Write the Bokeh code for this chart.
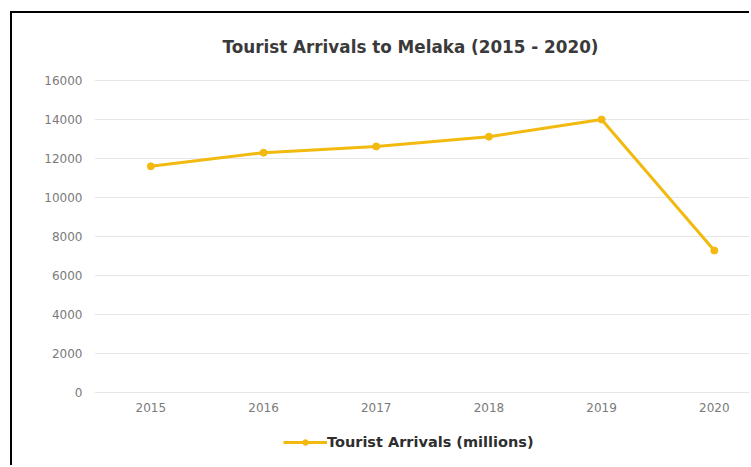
from bokeh.plotting import figure
from bokeh.models import Range1d, FixedTicker, Legend, LegendItem
from bokeh.embed import file_html
from bokeh.resources import INLINE

years = [2015, 2016, 2017, 2018, 2019, 2020]
arrivals = [11600, 12300, 12620, 13120, 14000, 7280]
y_ticks = [0, 2000, 4000, 6000, 8000, 10000, 12000, 14000, 16000]
title_text = "Tourist Arrivals to Melaka (2015 - 2020)"
series_label = "Tourist Arrivals (millions)"

gold = "#F2B90F"
font = "DejaVu Sans"

p = figure(width=739, height=454, output_backend="svg", toolbar_location=None,
           x_range=Range1d(2014.5, 2020.33), y_range=Range1d(-3026, 16103),
           min_border_left=82, min_border_right=0, min_border_top=65, min_border_bottom=16,
           margin=(11, 0, 0, 10),
           styles={"border-left": "2px solid #000", "border-top": "2px solid #000"})

p.title.text = title_text
p.title.align = "left"
p.title.offset = 128
p.title.standoff = 43
p.title.text_font = font
p.title.text_font_size = "16.8px"
p.title.text_font_style = "bold"
p.title.text_color = "#3a3a3a"

p.outline_line_color = None
p.background_fill_color = "white"
p.border_fill_color = "white"

p.xaxis.ticker = FixedTicker(ticks=years)
p.yaxis.ticker = FixedTicker(ticks=y_ticks)
p.xaxis.fixed_location = 0
for ax in (p.xaxis, p.yaxis):
    ax.axis_line_color = None
    ax.major_tick_line_color = None
    ax.minor_tick_line_color = None
    ax.major_label_text_font = font
    ax.major_label_text_font_size = "12px"
    ax.major_label_text_color = "#7a7a7a"
p.xaxis.major_label_standoff = 5
p.yaxis.major_label_standoff = 6
p.xgrid.grid_line_color = None
p.ygrid.grid_line_color = "#e6e6e6"
p.ygrid.grid_line_width = 1

line_r = p.line(years, arrivals, line_color=gold, line_width=3)
dot_r = p.scatter(years, arrivals, size=7, fill_color=gold, line_color=gold)

legend = Legend(items=[LegendItem(label=series_label, renderers=[line_r, dot_r])],
                location=(189, 1), orientation="horizontal",
                padding=0, margin=0, spacing=0,
                glyph_width=44, glyph_height=14, label_standoff=0,
                border_line_color=None, background_fill_alpha=0,
                label_text_font=font, label_text_font_size="14.5px",
                label_text_font_style="bold", label_text_color="#2e2e2e")
p.add_layout(legend, "center")

open("out.html", "w").write(file_html(p, INLINE))
